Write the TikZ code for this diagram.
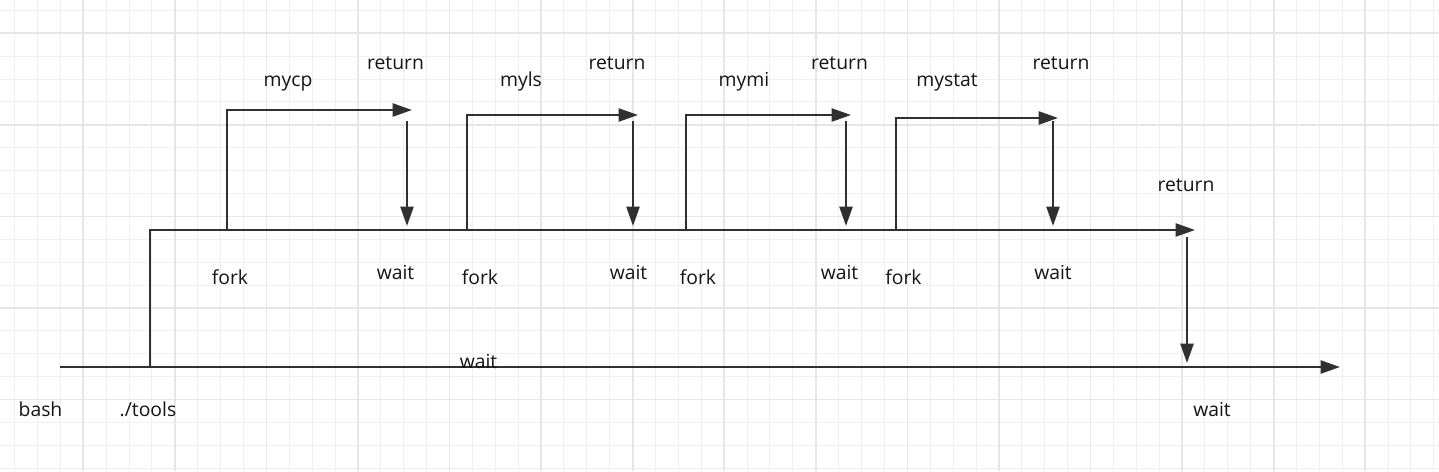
\documentclass[tikz,border=0pt]{standalone}
\usepackage{fontspec}
\setmainfont{Open Sans}
\usetikzlibrary{arrows.meta}
\definecolor{tratto}{HTML}{303030}
\definecolor{scritta}{HTML}{141414}
\definecolor{grigliafine}{HTML}{F0F0F0}
\definecolor{grigliaforte}{HTML}{E6E6E6}
\newcommand{\larghezza}{1439}
\newcommand{\altezza}{471}
\tikzset{
  freccia/.style={draw=tratto, line width=1.25pt, -{Triangle[length=11pt,width=7.4pt]}},
  etichetta/.style={anchor=base, text=scritta, inner sep=0pt, font=\fontsize{11}{13}\selectfont},
}

\begin{document}
\begin{tikzpicture}[x=0.02cm,y=-0.02cm]

  % ---- Sfondo e griglia ---------------------------------------------------
  \useasboundingbox (0,0) rectangle (\larghezza,\altezza);
  \fill[white] (0,0) rectangle (\larghezza,\altezza);
  \foreach \k in {0,...,62}
    \draw[grigliafine, line width=0.55pt] (14.6+22.89*\k,0) -- (14.6+22.89*\k,\altezza);
  \foreach \k in {0,...,20}
    \draw[grigliafine, line width=0.55pt] (0,10.4+22.89*\k) -- (\larghezza,10.4+22.89*\k);
  \foreach \k in {0,...,14}
    \draw[grigliaforte, line width=1pt] (83.3+91.57*\k,0) -- (83.3+91.57*\k,\altezza);
  \foreach \k in {0,...,4}
    \draw[grigliaforte, line width=1pt] (0,33.3+91.57*\k) -- (\larghezza,33.3+91.57*\k);

  % ---- bash e ./tools -------------------------------------------------------
  \coordinate (bash-inizio) at (60,367);
  \coordinate (bash-fine) at (1340,367);
  \draw[freccia] (bash-inizio) -- (bash-fine);

  \coordinate (tools-fork) at (150,367);
  \coordinate (tools-fine) at (1195,230);
  \draw[freccia] (tools-fork) |- (tools-fine);

  \coordinate (tools-ret) at (1187,237);
  \coordinate (bash-wait) at (1187,363);
  \draw[freccia] (tools-ret) -- (bash-wait);

  % ---- I quattro figli ------------------------------------------------------
  \def\figlio#1#2#3#4#5#6#7#8{%
    % #1 = nome, #2 = x del fork, #3 = y del ramo alto, #4 = x del ritorno
    % #5 = x del nome, #6 = x di "fork", #7 = x di "wait", #8 = x di "return"
    \coordinate (fork-#1) at (#2,229);
    \coordinate (uscita-#1) at (#4+5,#3);
    \coordinate (ret-#1) at (#4,121);
    \coordinate (wait-#1) at (#4,226);
    \draw[freccia] (fork-#1) |- (uscita-#1);
    \draw[freccia] (ret-#1) -- (wait-#1);
    \node[etichetta] (nome-#1) at (#5,86) {#1};
    \node[etichetta] (fk-#1) at (#6,284) {fork};
    \node[etichetta] (wt-#1) at (#7,279) {wait};
    \node[etichetta] (rt-#1) at (#8,69) {return};
  }

  \figlio{mycp}{227}{110}{407}{288}{230}{395.5}{395.5}
  \figlio{myls}{467}{115}{633}{521}{480}{628.5}{617}
  \figlio{mymi}{686}{115}{846}{744}{698}{839.5}{839.5}
  \figlio{mystat}{896}{118}{1053}{947}{903.5}{1053}{1061}

  % ---- Etichette della linea principale ------------------------------------
  \node[etichetta] (bash) at (40.5,416) {bash};
  \node[etichetta] (tools) at (148,416) {./tools};
  \node[etichetta] (wait-bash) at (478.5,368) {wait};
  \node[etichetta] (wait-fine) at (1212,416.5) {wait};
  \node[etichetta] (return-tools) at (1186,191.5) {return};

\end{tikzpicture}
\end{document}
